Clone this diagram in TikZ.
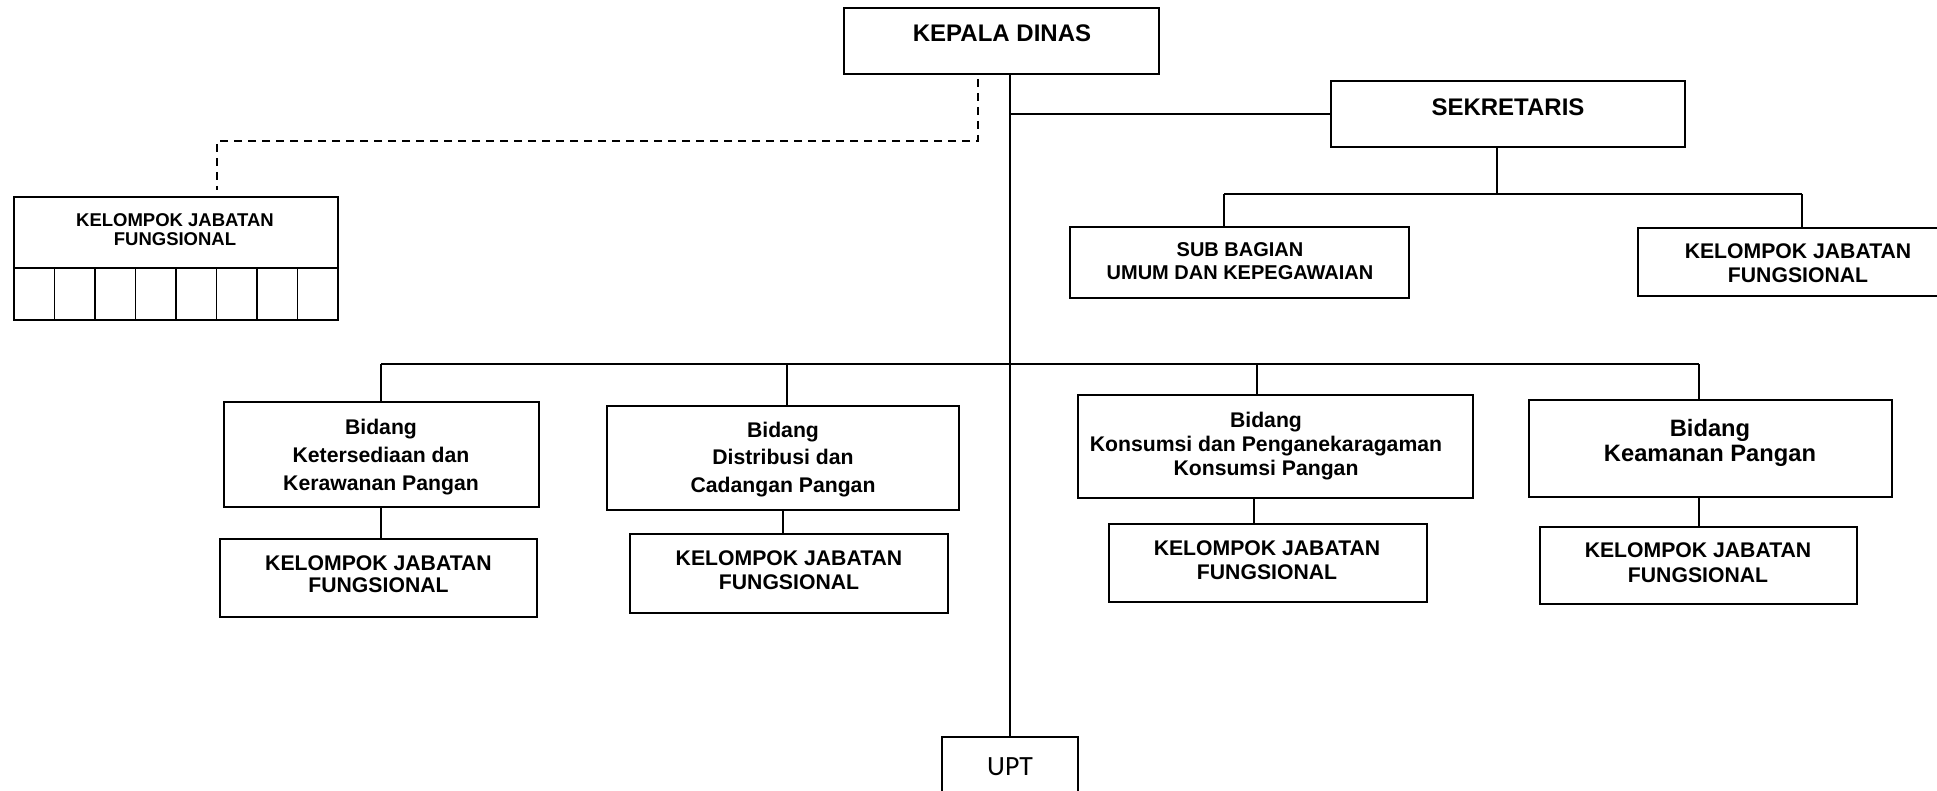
\documentclass[tikz,border=0pt]{standalone}
\usepackage{fontspec}
\setmainfont{Liberation Sans}
\newfontfamily\upfont{Carlito}
\usetikzlibrary{fit,calc}
\begin{document}
\begin{tikzpicture}[x=0.5pt,y=-0.5pt,
  box/.style={draw, line width=1pt, inner sep=0pt},
  conn/.style={line width=0.8pt},
  thickconn/.style={line width=1.2pt},
  dconn/.style={line width=0.9pt, dash pattern=on 4pt off 3pt},
  lbl/.style={inner sep=0pt, align=center}]
\useasboundingbox (0,0) rectangle (1937,791);
\clip (0,0) rectangle (1937,791);
\fill[white] (0,0) rectangle (1937,791);

% boxes
\node[box, fit={(844,8) (1159,74)}] (kd) {};
\node[box, fit={(1331,81) (1685,147)}] (sek) {};
\node[box, fit={(1070,227) (1409,298)}] (sub) {};
\node[box, fit={(1638,228) (1960,296)}] (kjfs) {};
\node[box, fit={(14,197) (338,320)}] (kjf0) {};
\node[box, fit={(224,402) (539,507)}] (b1) {};
\node[box, fit={(607,406) (959,510)}] (b2) {};
\node[box, fit={(1078,395) (1473,498)}] (b3) {};
\node[box, fit={(1529,400) (1892,497)}] (b4) {};
\node[box, fit={(220,539) (537,617)}] (k1) {};
\node[box, fit={(630,534) (948,613)}] (k2) {};
\node[box, fit={(1109,524) (1427,602)}] (k3) {};
\node[box, fit={(1540,527) (1857,604)}] (k4) {};
\node[box, fit={(942,737) (1078,812)}] (upt) {};

% cells of left group
\draw[line width=1pt] (kjf0.west |- 0,268) -- (kjf0.east |- 0,268);
\foreach \i in {1,...,7} \draw[line width=0.9pt] ({14+40.5*\i},268) -- ({14+40.5*\i},320);

% texts
\node[lbl, font=\bfseries\fontsize{12}{14}\selectfont] (kdt) at (1002,33) {KEPALA DINAS};
\node[lbl, font=\bfseries\fontsize{12}{14}\selectfont] (sekt) at (1508,107) {SEKRETARIS};
\node[lbl, font=\bfseries\fontsize{10}{11.5}\selectfont] (subt) at (1240,261.5) {SUB BAGIAN\\UMUM DAN KEPEGAWAIAN};
\node[lbl, font=\bfseries\fontsize{10.6}{11.8}\selectfont] (kjfst) at (1798,263.5) {KELOMPOK JABATAN\\FUNGSIONAL};
\node[lbl, font=\bfseries\fontsize{9.25}{9.75}\selectfont] (kjf0t) at (175,229.5) {KELOMPOK JABATAN\\FUNGSIONAL};
\node[lbl, font=\bfseries\fontsize{10.6}{14}\selectfont] (b1t) at (381,457) {Bidang\\Ketersediaan dan\\Kerawanan Pangan};
\node[lbl, font=\bfseries\fontsize{10.6}{13.75}\selectfont] (b2t) at (783,459.5) {Bidang\\Distribusi dan\\Cadangan Pangan};
\node[lbl, font=\bfseries\fontsize{10.6}{12}\selectfont] (b3t) at (1266,446) {Bidang\\Konsumsi dan Penganekaragaman\\Konsumsi Pangan};
\node[lbl, font=\bfseries\fontsize{11.85}{12.5}\selectfont] (b4t) at (1710,443) {Bidang\\Keamanan Pangan};
\node[lbl, font=\bfseries\fontsize{10.6}{11}\selectfont] (k1t) at (378.5,574) {KELOMPOK JABATAN\\FUNGSIONAL};
\node[lbl, font=\bfseries\fontsize{10.6}{12}\selectfont] (k2t) at (789,570) {KELOMPOK JABATAN\\FUNGSIONAL};
\node[lbl, font=\bfseries\fontsize{10.6}{12}\selectfont] (k3t) at (1267,560) {KELOMPOK JABATAN\\FUNGSIONAL};
\node[lbl, font=\bfseries\fontsize{10.6}{12.5}\selectfont] (k4t) at (1698,562.5) {KELOMPOK JABATAN\\FUNGSIONAL};
\node[lbl, font=\upfont\fontsize{13.9}{15}\selectfont] (uptt) at (1010,767) {UPT};

% junction coordinates
\coordinate (dk) at (978,141);
\coordinate (dl) at (217,141);
\coordinate (sj) at (1497,194);
\coordinate (sl) at (1224,194);
\coordinate (sr) at (1802,194);
\coordinate (h1) at (381,364);
\coordinate (h2) at (787,364);
\coordinate (h3) at (1257,364);
\coordinate (h4) at (1699,364);
\coordinate (v3) at (1254,364);

% connectors
\draw[conn] (kd.south -| upt.north) -- (upt.north);
\draw[thickconn] (sek.west) -- (sek.west -| upt.north);
\draw[dconn, shorten <=2pt, shorten >=3pt] (kd.south -| dk) -- (dk) -- (dl) -- (dl |- kjf0.north);
\draw[conn] (sek.south -| sj) -- (sj);
\draw[thickconn] (sl) -- (sr);
\draw[conn] (sl) -- (sl |- sub.north);
\draw[conn] (sr) -- (sr |- kjfs.north);
\draw[thickconn] (h1) -- (h4);
\draw[conn] (h1) -- (h1 |- b1.north);
\draw[conn] (h2) -- (h2 |- b2.north);
\draw[conn] (h3) -- (h3 |- b3.north);
\draw[conn] (h4) -- (h4 |- b4.north);
\draw[conn] (b1.south -| h1) -- (k1.north -| h1);
\draw[conn] (b2.south) -- (b2.south |- k2.north);
\draw[conn] (b3.south -| v3) -- (k3.north -| v3);
\draw[conn] (b4.south -| h4) -- (k4.north -| h4);
\end{tikzpicture}
\end{document}
